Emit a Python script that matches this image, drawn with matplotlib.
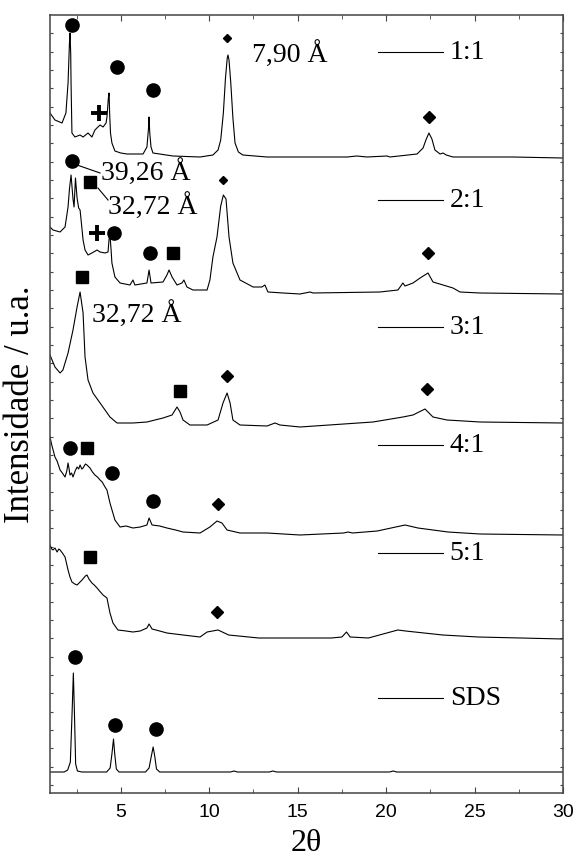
import numpy as np
import matplotlib
matplotlib.use("Agg")
import matplotlib.pyplot as plt
from matplotlib.ticker import MultipleLocator, FixedLocator

# difratogramas (2theta, intensidade em u.a. acima da linha de base de cada amostra)
trace_11 = np.array([
    (1.00, 45), (1.28, 38), (1.68, 35), (1.90, 45), (2.02, 75), (2.10, 115), (2.13, 125),
    (2.17, 105), (2.19, 75), (2.24, 25), (2.41, 21), (2.70, 23), (2.87, 21), (3.15, 25),
    (3.37, 21), (3.54, 28), (3.71, 31), (3.83, 33), (4.00, 31), (4.17, 35), (4.22, 41),
    (4.30, 60), (4.34, 65), (4.37, 45), (4.42, 25), (4.50, 15), (4.67, 7), (5.00, 5),
    (5.35, 4), (6.26, 4), (6.48, 11), (6.57, 30), (6.60, 41), (6.64, 25), (6.71, 11),
    (6.82, 5), (7.95, 2), (9.48, 1), (10.21, 3), (10.50, 8), (10.65, 18), (10.80, 45),
    (10.92, 80), (11.02, 100), (11.06, 103), (11.12, 98), (11.22, 75), (11.34, 40),
    (11.46, 15), (11.65, 6), (11.90, 3), (13.27, 1), (15.13, 1), (17.79, 1), (18.35, 2),
    (18.92, 1), (20.05, 2), (20.22, 1), (21.75, 4), (22.09, 10), (22.25, 18), (22.42, 25),
    (22.59, 19), (22.76, 8), (23.05, 4), (23.22, 5), (23.40, 3), (23.78, 1), (25.31, 1),
    (27.17, 1), (30.00, 0)])

trace_21 = np.array([
    (1.00, 67), (1.17, 64), (1.57, 62), (1.85, 67), (2.02, 87), (2.10, 105), (2.19, 119),
    (2.30, 95), (2.36, 87), (2.44, 116), (2.53, 96), (2.62, 86), (2.70, 84), (2.78, 70),
    (2.87, 54), (2.98, 44), (3.15, 39), (3.37, 41), (3.66, 44), (3.83, 42), (4.11, 41),
    (4.28, 42), (4.34, 55), (4.39, 59), (4.45, 45), (4.50, 31), (4.67, 17), (4.96, 11),
    (5.52, 9), (5.69, 14), (5.80, 9), (6.48, 11), (6.60, 24), (6.71, 11), (7.39, 12),
    (7.61, 19), (7.73, 24), (7.90, 17), (8.18, 9), (8.46, 11), (8.57, 14), (8.74, 7),
    (9.08, 4), (9.88, 4), (10.04, 14), (10.21, 37), (10.44, 57), (10.65, 88), (10.80, 99),
    (10.95, 95), (11.12, 57), (11.34, 31), (11.74, 14), (12.48, 7), (12.98, 7), (13.15, 9),
    (13.32, 2), (14.17, 1), (15.13, 0), (15.70, 2), (15.87, 1), (19.65, 2), (20.67, 4),
    (20.95, 11), (21.07, 8), (21.52, 11), (21.92, 16), (22.37, 21), (22.65, 12), (23.22, 9),
    (23.78, 6), (24.18, 2), (25.31, 1), (30.00, 0)])

trace_31 = np.array([
    (1.00, 68), (1.28, 56), (1.57, 50), (1.73, 53), (2.02, 70), (2.30, 93), (2.53, 116),
    (2.70, 131), (2.87, 110), (2.98, 66), (3.15, 43), (3.43, 30), (3.83, 20), (4.39, 6),
    (4.79, 0), (5.69, 0), (6.48, 1), (7.39, 5), (7.90, 8), (8.18, 16), (8.35, 11),
    (8.52, 3), (8.91, -2), (9.88, -2), (10.50, 3), (10.78, 20), (11.01, 30), (11.18, 20),
    (11.34, 3), (11.74, -2), (13.27, -3), (13.72, 0), (14.00, -2), (15.13, -4), (19.26, 1),
    (20.95, 6), (21.52, 8), (22.20, 14), (22.65, 6), (23.44, 3), (25.31, 1), (30.00, 0)])

trace_41 = np.array([
    (1.00, 98), (1.10, 90), (1.28, 78), (1.40, 74), (1.57, 65), (1.70, 62), (1.85, 58),
    (1.95, 64), (2.02, 72), (2.08, 66), (2.13, 60), (2.22, 62), (2.30, 58), (2.42, 64),
    (2.53, 68), (2.62, 66), (2.70, 70), (2.80, 66), (2.87, 67), (3.00, 71), (3.09, 70),
    (3.26, 67), (3.40, 63), (3.54, 60), (3.68, 58), (3.83, 55), (3.95, 53), (4.11, 48),
    (4.22, 45), (4.39, 32), (4.67, 15), (4.96, 8), (5.30, 9), (5.69, 7), (6.10, 8),
    (6.48, 10), (6.60, 17), (6.77, 10), (7.20, 9), (7.61, 7), (8.10, 5), (8.52, 3),
    (9.48, 2), (10.04, 8), (10.44, 14), (10.72, 12), (11.01, 5), (11.74, 2), (13.27, 2),
    (15.13, 0), (17.60, 2), (17.85, 3), (18.10, 2), (19.50, 4), (21.07, 10), (21.80, 7),
    (23.50, 3), (25.31, 1), (30.00, 0)])

trace_51 = np.array([
    (1.00, 94), (1.10, 90), (1.17, 89), (1.28, 91), (1.40, 87), (1.50, 90), (1.57, 89),
    (1.70, 86), (1.85, 82), (2.02, 69), (2.13, 62), (2.24, 57), (2.40, 55), (2.53, 54),
    (2.70, 57), (2.81, 59), (3.00, 63), (3.09, 64), (3.20, 60), (3.37, 56), (3.50, 54),
    (3.66, 51), (3.80, 48), (4.00, 44), (4.22, 41), (4.39, 26), (4.56, 16), (4.84, 9),
    (5.30, 8), (5.69, 7), (6.10, 8), (6.48, 11), (6.60, 15), (6.77, 10), (7.20, 8),
    (7.61, 6), (8.52, 4), (9.48, 2), (9.88, 7), (10.50, 9), (11.10, 4), (12.80, 1),
    (16.90, 1), (17.50, 2), (17.76, 7), (17.97, 2), (19.00, 1), (20.66, 9), (21.10, 8),
    (23.20, 4), (25.20, 2), (30.00, 0)])

trace_sds = np.array([
    (1.00, 0), (1.80, 0), (2.00, 2), (2.15, 10), (2.25, 60), (2.32, 99), (2.38, 60),
    (2.45, 8), (2.55, 1), (2.80, 0), (4.20, 0), (4.40, 4), (4.50, 18), (4.59, 33),
    (4.66, 18), (4.75, 3), (4.90, 0), (6.40, 0), (6.60, 4), (6.73, 16), (6.83, 25),
    (6.92, 16), (7.02, 3), (7.20, 0), (11.20, 0), (11.40, 1), (11.60, 0), (13.40, 0),
    (13.60, 1), (13.80, 0), (20.20, 0), (20.40, 1), (20.60, 0), (30.00, 0)])

sample_names = ["1:1", "2:1", "3:1", "4:1", "5:1", "SDS"]
traces = [trace_11, trace_21, trace_31, trace_41, trace_51, trace_sds]
# deslocamento vertical de cada curva
offsets = [635, 499, 370, 258, 154, 21]
label_heights = [741, 593, 466, 348, 240, 95]

serif = ["Liberation Serif", "DejaVu Serif"]
sans = ["Liberation Sans", "DejaVu Sans"]

fig = plt.figure(figsize=(5.78, 8.63), dpi=100)
ax = fig.add_axes([50 / 578, 1 - 793 / 863, 513 / 578, 778 / 863])

for tr, off in zip(traces, offsets):
    ax.plot(tr[:, 0], tr[:, 1] + off, color="black", lw=0.8)

# nomes das amostras
for name, h in zip(sample_names, label_heights):
    ax.plot([19.54, 23.2], [h, h], color="black", lw=0.8)
    ax.text(23.6, h, name, fontsize=20, family=serif, va="center", ha="left")

# simbolos das fases
circles = [(2.24, 768), (4.79, 726), (6.82, 703), (2.24, 632), (4.62, 560), (6.65, 540),
           (2.13, 345), (4.50, 320), (6.82, 292), (2.40, 136), (4.69, 68), (6.97, 64)]
squares = [(3.26, 611), (7.95, 540), (2.81, 516), (8.35, 402), (3.09, 345), (3.26, 236)]
small_diamonds = [(11.01, 755), (10.80, 613)]
diamonds = [(22.42, 676), (22.37, 540), (11.01, 417), (22.31, 404), (10.50, 289),
            (10.44, 181)]
pluses = [(3.77, 680), (3.66, 560)]

ax.plot(*zip(*circles), "o", color="black", ms=9.5, ls="none")
ax.plot(*zip(*squares), "s", color="black", ms=9, ls="none")
ax.plot(*zip(*small_diamonds), "D", color="black", ms=4.5, ls="none")
ax.plot(*zip(*diamonds), "D", color="black", ms=6, ls="none")
ax.plot(*zip(*pluses), "+", color="black", ms=11, mew=2.8, ls="none")

ax.plot([2.53, 3.83], [628, 620], color="black", lw=0.8)
ax.plot([3.71, 4.28], [605, 593], color="black", lw=0.8)
ax.text(12.4, 738, "7,90 Å", fontsize=20, family=serif, va="center")
ax.text(3.9, 620, "39,26 Å", fontsize=20, family=serif, va="center")
ax.text(4.28, 586, "32,72 Å", fontsize=20, family=serif, va="center")
ax.text(3.37, 478, "32,72 Å", fontsize=20, family=serif, va="center")

ax.set_xlim(1, 30)
ax.set_ylim(0, 778)
ax.xaxis.set_major_locator(MultipleLocator(5))
ax.xaxis.set_minor_locator(MultipleLocator(2.5))
ax.yaxis.set_major_locator(FixedLocator(np.arange(759.7, 0, -18.33)))
ax.set_yticklabels([])
ax.tick_params(axis="both", which="both", direction="in", top=True, right=True,
               color="#444444")
ax.tick_params(axis="x", which="major", length=4, pad=8, labelsize=14)
ax.tick_params(axis="x", which="minor", length=3)
ax.tick_params(axis="y", which="major", length=2.5)
for lab in ax.get_xticklabels():
    lab.set_family(sans)
for sp in ax.spines.values():
    sp.set_color("#444444")
    sp.set_linewidth(1.1)

ax.set_xlabel("2θ", fontsize=23, family=serif, labelpad=6)
ax.set_ylabel("Intensidade / u.a.", fontsize=25, family=serif, labelpad=6)

fig.savefig("out.png", dpi=100)
